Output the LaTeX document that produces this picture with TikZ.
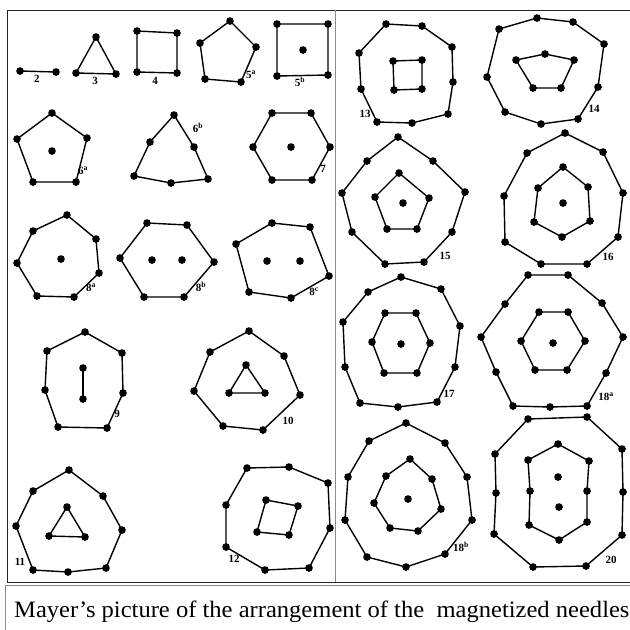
\documentclass[tikz,border=0pt]{standalone}
\usepackage{fontspec}
\setmainfont{Liberation Serif}
\usetikzlibrary{plotmarks}
\tikzset{
  ring/.style={line width=1.4pt, black, line join=round, mark=*, mark size=3.1, mark options={solid, fill=black}},
  lab/.style={font=\bfseries\fontsize{11}{11}\selectfont, inner sep=0pt},
  frameline/.style={line width=1pt, black!85},
  graytline/.style={line width=1pt, black!45}
}
\newcommand\poly[1]{\draw[ring] plot[sharp cycle] coordinates {#1};}
\newcommand\openp[1]{\draw[ring] plot[sharp plot] coordinates {#1};}
\newcommand\needles[1]{\draw[ring] plot[only marks] coordinates {#1};}
\begin{document}
\begin{tikzpicture}[x=1pt,y=-1pt]
\useasboundingbox (0,0) rectangle (630,630);
\fill[white] (0,0) rectangle (630,630);
% frames
\draw[frameline] (630,10) -- (7,10) -- (7,582) -- (630,582);
\draw[graytline] (335,10) -- (335,582);
\draw[graytline] (630,585) -- (5,585) -- (5,630);
% 2
\openp{(20,71) (56,72)} \node[lab] at (37,79) {2};
% 3
\poly{(96,37) (116,74) (76,73)} \node[lab] at (95,81) {3};
% 4
\poly{(137,31) (177,33) (177,73) (137,72)} \node[lab] at (155,81) {4};
% 5a
\poly{(230,21) (256,47) (241,82) (205,79) (200,43)} \node[lab] at (251,75) {5\textsuperscript{a}};
% 5b
\poly{(277,24) (328,24) (328,75) (277,76)} \needles{(303,50)} \node[lab] at (300,82) {5\textsuperscript{b}};
% 6a
\poly{(52,113) (87,138) (76,182) (33,182) (17,139)} \needles{(52,151)} \node[lab] at (83,171) {6\textsuperscript{a}};
% 6b
\poly{(174,115) (194,147) (208,179) (171,183) (134,176) (150,142)} \node[lab] at (198,128) {6\textsuperscript{b}};
% 7
\poly{(272,113) (311,113) (330,147) (312,180) (272,180) (253,147)} \needles{(291,147)} \node[lab] at (323,169) {7};
% 8a
\poly{(67,215) (96,239) (99,273) (74,297) (37,296) (17,263) (33,231)} \needles{(61,259)} \node[lab] at (91,288) {8\textsuperscript{a}};
% 8b
\poly{(147,223) (187,225) (214,262) (184,297) (144,297) (120,258)} \needles{(152,260) (182,260)} \node[lab] at (201,287) {8\textsuperscript{b}};
% 8c
\poly{(272,223) (310,227) (329,276) (291,298) (249,292) (236,244)} \needles{(267,261) (300,261)} \node[lab] at (314,292) {8\textsuperscript{c}};
% 9
\poly{(85,332) (122,353) (123,393) (107,428) (58,427) (45,390) (47,351)} \openp{(83,368) (83,399)} \node[lab] at (117,414) {9};
% 10
\poly{(249,331) (284,356) (300,395) (263,430) (223,426) (194,391) (210,352)} \poly{(246,365) (265,393) (229,393)} \node[lab] at (288,421) {10};
% 11
\poly{(69,470) (103,496) (122,530) (106,568) (68,572) (33,570) (16,526) (33,491)} \poly{(67,507) (85,537) (49,536)} \node[lab] at (20,562) {11};
% 12
\poly{(247,468) (289,467) (328,483) (330,528) (309,568) (265,570) (226,547) (226,505)} \poly{(266,500) (298,506) (289,535) (257,532)} \node[lab] at (234,559) {12};
% 13
\poly{(386,24) (422,26) (452,47) (453,82) (448,114) (412,123) (377,122) (361,89) (359,53)} \poly{(393,61) (422,60) (422,89) (394,90)} \node[lab] at (365,114) {13};
% 14
\poly{(537,18) (573,22) (604,44) (598,87) (578,119) (541,124) (505,112) (487,77) (499,29)} \poly{(516,60) (545,54) (574,60) (561,88) (533,88)} \node[lab] at (594,109) {14};
% 15
\poly{(398,137) (433,161) (465,192) (452,232) (424,262) (385,264) (352,232) (342,193) (367,161)} \poly{(399,173) (429,198) (417,229) (387,229) (375,197)} \needles{(403,203)} \node[lab] at (445,256) {15};
% 16
\poly{(565,133) (603,152) (623,193) (618,237) (587,264) (541,264) (505,242) (504,196) (527,153)} \poly{(563,167) (588,187) (590,221) (562,237) (534,222) (538,188)} \needles{(563,203)} \node[lab] at (608,257) {16};
% 17
\poly{(401,277) (441,289) (460,326) (455,367) (437,402) (398,407) (360,403) (345,367) (343,322) (368,292)} \poly{(385,313) (416,313) (430,343) (417,373) (384,373) (372,342)} \needles{(401,344)} \node[lab] at (449,394) {17};
% 18a
\poly{(528,275) (568,275) (602,303) (623,337) (606,373) (587,406) (550,407) (513,406) (496,372) (481,337) (505,304)} \poly{(539,312) (568,312) (585,341) (567,370) (535,370) (521,341)} \needles{(553,343)} \node[lab] at (606,397) {18\textsuperscript{a}};
% 18b
\poly{(406,423) (445,443) (467,477) (472,520) (445,554) (406,567) (367,557) (345,520) (348,477) (369,441)} \poly{(410,459) (432,479) (441,509) (418,531) (390,528) (374,503) (386,476)} \needles{(408,499)} \node[lab] at (461,547) {18\textsuperscript{b}};
% 20
\poly{(528,419) (587,417) (622,449) (623,492) (622,535) (586,566) (533,567) (494,534) (496,493) (495,454)} \poly{(558,444) (589,461) (587,491) (587,522) (559,540) (529,525) (530,491) (528,460)} \needles{(558,477) (559,507)} \node[lab] at (611,560) {20};
% caption
\node[anchor=base west, inner sep=0pt, font=\fontsize{23.5}{25}\selectfont] (cap) at (14,617) {\scalebox{1.045}[1]{Mayer’s picture of the arrangement of the\ \ magnetized needles}};
\end{tikzpicture}
\end{document}
